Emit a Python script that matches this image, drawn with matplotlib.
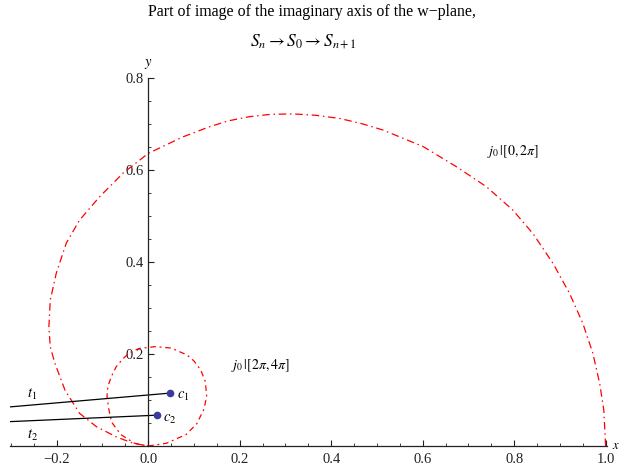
import matplotlib
matplotlib.use("Agg")
import matplotlib.pyplot as plt
from matplotlib.ticker import MultipleLocator, FixedLocator

plt.rcParams['font.family'] = ['Liberation Serif', 'DejaVu Serif']
plt.rcParams['mathtext.fontset'] = 'stix'

# image of [0, 2pi] (big loop)
big_x = [1.000, 0.996, 0.987, 0.972, 0.950, 0.921, 0.885, 0.841, 0.797, 0.739,
         0.674, 0.601, 0.513, 0.466, 0.419, 0.366, 0.316, 0.268, 0.222, 0.176,
         0.134, 0.076, 0.000, -0.055,
         -0.106, -0.150, -0.179, -0.201, -0.214, -0.217, -0.214, -0.204, -0.182,
         -0.150, -0.113, -0.070, -0.033, 0.000]
big_y = [0.000, 0.078, 0.136, 0.202, 0.267, 0.332, 0.397, 0.462, 0.513, 0.564,
         0.607, 0.651, 0.687, 0.701, 0.712, 0.719, 0.722, 0.721, 0.716, 0.707,
         0.694, 0.672, 0.636, 0.593,
         0.542, 0.491, 0.441, 0.375, 0.317, 0.259, 0.216, 0.180, 0.122,
         0.071, 0.042, 0.020, 0.006, 0.000]

# image of [2pi, 4pi] (small loop)
small_x = [0.000, 0.040, 0.083, 0.106, 0.122, 0.128, 0.125, 0.115, 0.100, 0.085,
           0.050, 0.015, -0.020, -0.040, -0.055, -0.070, -0.080, -0.088, -0.090,
           -0.086, -0.080, -0.060, -0.030, 0.000]
small_y = [0.000, 0.006, 0.025, 0.048, 0.080, 0.108, 0.140, 0.165, 0.185, 0.198,
           0.213, 0.216, 0.212, 0.203, 0.190, 0.172, 0.152, 0.130, 0.108,
           0.080, 0.052, 0.025, 0.006, 0.000]

# tangent segments t1, t2 ending at c1, c2
t1_x = [-0.302, 0.048]
t1_y = [0.085, 0.115]
t2_x = [-0.302, 0.019]
t2_y = [0.053, 0.067]

xticks = [-0.2, 0.0, 0.2, 0.4, 0.6, 0.8, 1.0]
yticks = [0.2, 0.4, 0.6, 0.8]

fig = plt.figure(figsize=(6.22, 4.76), dpi=100)
ax = fig.add_axes([10 / 622, 30 / 476, 597 / 622, 368 / 476])

red = (1.0, 0.0, 0.0)
ax.plot(big_x, big_y, color=red, lw=0.9, ls=(0, (6, 3, 1.2, 3)), clip_on=False)
ax.plot(small_x, small_y, color=red, lw=0.9, ls=(0, (4.5, 3, 1.5, 3)), clip_on=False)
ax.plot(t1_x, t1_y, color='black', lw=0.9)
ax.plot(t2_x, t2_y, color='black', lw=0.9)
dot = '#3b3b9c'
ax.plot([t1_x[-1], t2_x[-1]], [t1_y[-1], t2_y[-1]], 'o', color=dot, ms=4.5, zorder=5)

ax.set_xlim(-0.302, 1.003)
ax.set_ylim(0, 0.8)

# Mathematica-style axes through the origin
for s in ['top', 'right']:
    ax.spines[s].set_visible(False)
ax.spines['left'].set_position(('data', 0))
ax.spines['bottom'].set_position(('data', 0))
for s in ['left', 'bottom']:
    ax.spines[s].set_color('#222222')
    ax.spines[s].set_linewidth(0.9)

ax.xaxis.set_major_locator(FixedLocator(xticks))
ax.yaxis.set_major_locator(FixedLocator(yticks))
ax.xaxis.set_minor_locator(MultipleLocator(0.05))
ax.yaxis.set_minor_locator(MultipleLocator(0.05))
ax.set_xticklabels(['\u22120.2', '0.0', '0.2', '0.4', '0.6', '0.8', '1.0'])
ax.set_yticklabels(['0.2', '0.4', '0.6', '0.8'])
ax.tick_params(which='major', direction='in', length=4, width=0.8, labelsize=10.5,
               colors='#222222', pad=5)
ax.tick_params(which='minor', direction='in', length=2.5, width=0.6, colors='#222222')
ax.tick_params(axis='y', which='major', pad=3)

ax.text(0.0, 0.815, r'$y$', fontsize=10.5, ha='center', va='bottom')
fig.text(612, 476 - 446, r'$x$', transform=None, fontsize=9, ha='left', va='center')

ax.text(-0.253, 0.112, r'$t_1$', fontsize=10.5, ha='center', va='center')
ax.text(-0.253, 0.022, r'$t_2$', fontsize=10.5, ha='center', va='center')
ax.text(0.062, 0.108, r'$c_1$', fontsize=10.5, ha='left', va='center')
ax.text(0.033, 0.058, r'$c_2$', fontsize=10.5, ha='left', va='center')
ax.text(0.18, 0.176, r'$j_0\,|[2\pi,4\pi]$', fontsize=10, ha='left', va='center')
ax.text(0.74, 0.64, r'$j_0\,|[0,2\pi]$', fontsize=10, ha='left', va='center')

fig.text(312, 476 - 12, 'Part of image of the imaginary axis of the w\u2212plane,',
         transform=None, fontsize=11.4, ha='center', va='center')
fig.text(303, 476 - 42, r'$S_n\rightarrow S_0\rightarrow S_{n+1}$',
         transform=None, fontsize=12.5, ha='center', va='center')

fig.savefig('out.png', dpi=100)
